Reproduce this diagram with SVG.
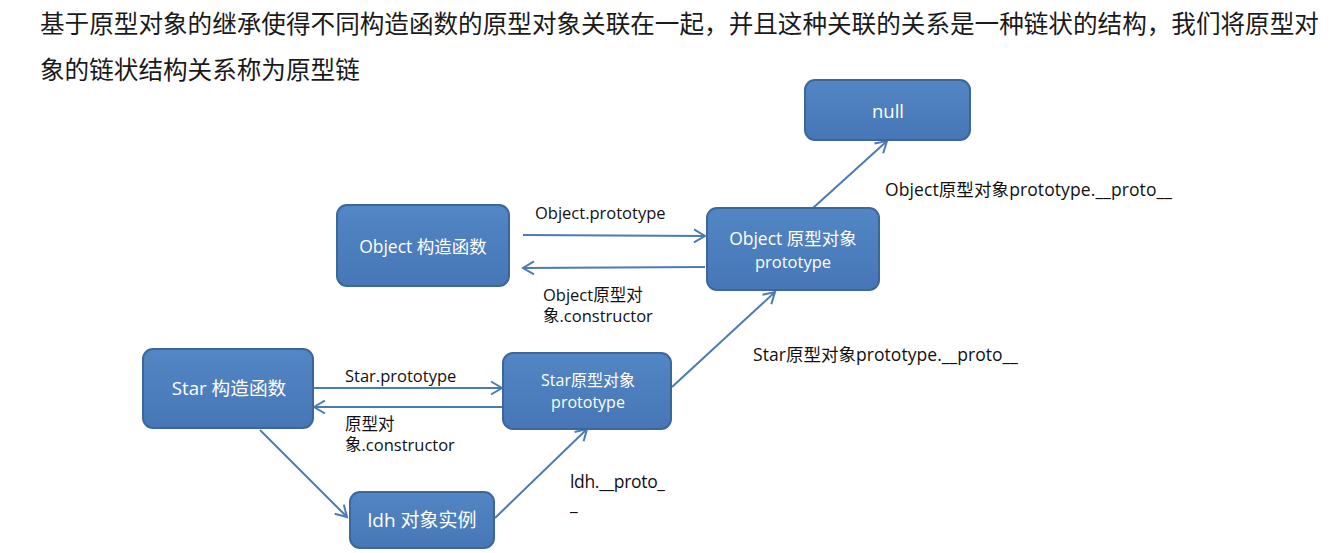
<svg xmlns="http://www.w3.org/2000/svg" width="1342" height="553" viewBox="0 0 1342 553">
<style>
.title{font-family:"Noto Sans CJK SC",sans-serif;font-size:24.6px;fill:#1a1a1a}
.node rect{fill:url(#g);stroke:#3b679c;stroke-width:2}
.node text{font-family:"Open Sans","Noto Sans CJK SC",sans-serif;fill:#ffffff;text-anchor:middle}
.lbl{font-family:"Open Sans","Noto Sans CJK SC",sans-serif;font-size:16.5px;fill:#111111}
.big{font-size:17.5px}
.edge{stroke:#4c7ab4;stroke-width:2;fill:none;marker-end:url(#arr)}
</style>
<defs>
<linearGradient id="g" x1="0" y1="0" x2="0" y2="1">
<stop offset="0" stop-color="#5386c4"/>
<stop offset="1" stop-color="#4676b6"/>
</linearGradient>
<marker id="arr" markerUnits="userSpaceOnUse" markerWidth="16" markerHeight="16" refX="13" refY="8" orient="auto" viewBox="0 0 16 16">
<path d="M2,1.5 L13,8 L2,14.5" fill="none" stroke="#4c7ab4" stroke-width="2"/>
</marker>
</defs>
<rect width="1342" height="553" fill="#ffffff"/>
<text class="title" x="40" y="33">基于原型对象的继承使得不同构造函数的原型对象关联在一起，并且这种关联的关系是一种链状的结构，我们将原型对</text>
<text class="title" x="40" y="79">象的链状结构关系称为原型链</text>

<g id="edges">
<line class="edge" x1="523" y1="235" x2="705" y2="236"/>
<line class="edge" x1="705" y1="267" x2="523" y2="268"/>
<line class="edge" x1="813" y1="208" x2="887" y2="141"/>
<line class="edge" x1="314" y1="388" x2="502" y2="388"/>
<line class="edge" x1="503" y1="407" x2="314" y2="407"/>
<line class="edge" x1="672" y1="387" x2="775" y2="292"/>
<line class="edge" x1="260" y1="430" x2="347" y2="517"/>
<line class="edge" x1="495" y1="518" x2="587" y2="429"/>
</g>

<g id="labels">
<text class="lbl" x="535" y="219">Object.prototype</text>
<text class="lbl" x="543" y="301">Object原型对<tspan x="543" dy="21">象.constructor</tspan></text>
<text class="lbl big" x="885" y="196" textLength="287" lengthAdjust="spacing">Object原型对象prototype.__proto__</text>
<text class="lbl" x="345" y="382">Star.prototype</text>
<text class="lbl" x="345" y="430">原型对<tspan x="345" dy="21">象.constructor</tspan></text>
<text class="lbl big" x="753" y="361" textLength="265" lengthAdjust="spacing">Star原型对象prototype.__proto__</text>
<text class="lbl big" x="570" y="488"><tspan textLength="95" lengthAdjust="spacing">ldh.__proto_</tspan><tspan x="570" dy="22">_</tspan></text>
</g>

<g id="node-null" class="node">
<rect x="805" y="80" width="165" height="60" rx="10"/>
<text x="888" y="118" font-size="18.5">null</text>
</g>
<g id="node-object-ctor" class="node">
<rect x="337" y="205" width="172" height="81" rx="10"/>
<text x="423" y="253" font-size="17.5">Object 构造函数</text>
</g>
<g id="node-object-proto" class="node">
<rect x="707" y="208" width="172" height="82" rx="10"/>
<text x="793" y="245" font-size="17.5">Object 原型对象</text>
<text x="793" y="268" font-size="16.5">prototype</text>
</g>
<g id="node-star-ctor" class="node">
<rect x="143" y="349" width="170" height="79" rx="10"/>
<text x="229" y="395" font-size="18.7">Star 构造函数</text>
</g>
<g id="node-star-proto" class="node">
<rect x="503" y="353" width="168" height="76" rx="10"/>
<text x="588" y="386" font-size="16">Star原型对象</text>
<text x="588" y="408" font-size="16">prototype</text>
</g>
<g id="node-ldh" class="node">
<rect x="350" y="492" width="144" height="56" rx="10"/>
<text x="422" y="527" font-size="19">ldh 对象实例</text>
</g>
</svg>
